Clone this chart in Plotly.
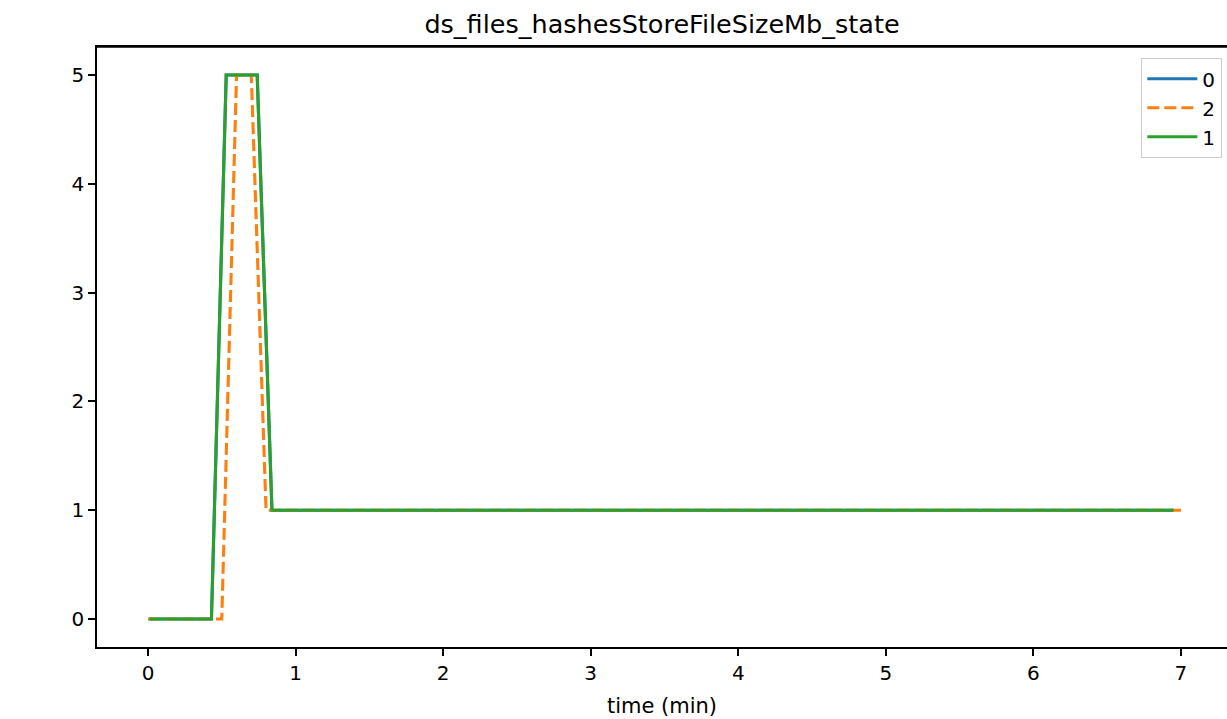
import plotly.graph_objects as go

# Series data (time in minutes, value in Mb)
time_0 = [0.01, 0.43, 0.53, 0.74, 0.84, 6.95]
vals_0 = [0, 0, 5, 5, 1, 1]

time_2 = [0.0, 0.50, 0.60, 0.70, 0.80, 7.0]
vals_2 = [0, 0, 5, 5, 1, 1]

time_1 = [0.01, 0.43, 0.53, 0.74, 0.84, 6.95]
vals_1 = [0, 0, 5, 5, 1, 1]

x_ticks = [0, 1, 2, 3, 4, 5, 6, 7]
y_ticks = [0, 1, 2, 3, 4, 5]

FONT = "DejaVu Sans"
LW = 3.1

fig = go.Figure()
fig.add_trace(go.Scatter(x=time_0, y=vals_0, mode="lines", name="0",
                         line=dict(color="#1f77b4", width=LW)))
fig.add_trace(go.Scatter(x=time_2, y=vals_2, mode="lines", name="2",
                         line=dict(color="#ff7f0e", width=LW, dash="12px,5px")))
fig.add_trace(go.Scatter(x=time_1, y=vals_1, mode="lines", name="1",
                         line=dict(color="#2ca02c", width=LW)))

axis_common = dict(
    showgrid=False, zeroline=False, showline=True, linecolor="black",
    linewidth=1.7, ticks="outside", ticklen=7, tickwidth=1.7,
    tickcolor="black", tickfont=dict(family=FONT, size=20, color="black"),
)

fig.update_layout(
    width=1227, height=719,
    margin=dict(l=97, r=0, t=47, b=72),
    paper_bgcolor="white", plot_bgcolor="white",
    font=dict(family=FONT, color="black"),
    title=dict(text="ds_files_hashesStoreFileSizeMb_state",
               font=dict(family=FONT, size=25.5, color="black"),
               x=0.5, xref="paper", xanchor="center",
               y=1 - 24 / 719, yref="container", yanchor="middle"),
    xaxis=dict(range=[-0.3456, 7.312], tickvals=x_ticks, mirror=True,
               title=dict(text="time (min)", font=dict(family=FONT, size=21, color="black"),
                          standoff=14),
               **axis_common),
    yaxis=dict(range=[-0.257, 5.257], tickvals=y_ticks, mirror=False,
               **axis_common),
    legend=dict(x=0.9956, xanchor="right", y=0.9817, yanchor="top",
                bordercolor="#cccccc", borderwidth=1.3, bgcolor="white",
                itemwidth=50,
                font=dict(family=FONT, size=20, color="black")),
    showlegend=True,
    shapes=[dict(type="line", xref="paper", yref="paper", x0=0, x1=1, y0=1, y1=1,
                 line=dict(color="black", width=1.7), layer="above")],
)

fig.write_html("out.html", config={"displayModeBar": False},
               post_script="document.body.style.margin='0';")
